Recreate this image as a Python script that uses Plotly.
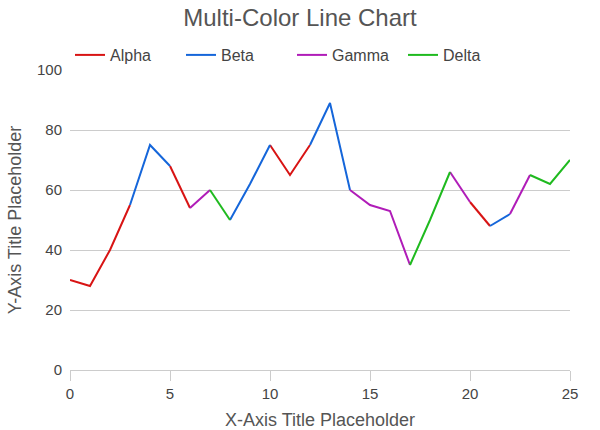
import plotly.graph_objects as go

# Data
x_values = list(range(26))
y_values = [30, 28, 40, 55, 75, 68, 54, 60, 50, 62, 75, 65, 75, 89, 60, 55, 53, 35, 50, 66, 56, 48, 52, 65, 62, 70]
# series that owns each segment (from point i to point i+1)
segment_series = ["Alpha", "Alpha", "Alpha", "Beta", "Beta", "Alpha", "Gamma", "Delta", "Beta", "Beta",
                  "Alpha", "Alpha", "Beta", "Beta", "Gamma", "Gamma", "Gamma", "Delta", "Delta", "Gamma",
                  "Alpha", "Beta", "Gamma", "Delta", "Delta"]
series_names = ["Alpha", "Beta", "Gamma", "Delta"]
series_colors = {"Alpha": "#d81414", "Beta": "#1566da", "Gamma": "#b01cb8", "Delta": "#1fba1f"}

fig = go.Figure()
for name in series_names:
    xs, ys = [], []
    for i, s in enumerate(segment_series):
        if s != name:
            continue
        if xs and xs[-1] == x_values[i]:
            xs.append(x_values[i + 1]); ys.append(y_values[i + 1])
        else:
            if xs:
                xs.append(None); ys.append(None)
            xs += [x_values[i], x_values[i + 1]]
            ys += [y_values[i], y_values[i + 1]]
    fig.add_trace(go.Scatter(x=xs, y=ys, mode="lines", name=name,
                             line=dict(color=series_colors[name], width=2),
                             connectgaps=False, hoverinfo="skip"))

font_family = "Liberation Sans, Arial, sans-serif"
fig.update_layout(
    width=600, height=430,
    margin=dict(l=70, r=30, t=70, b=60),
    paper_bgcolor="white", plot_bgcolor="white",
    font=dict(family=font_family, color="#444444", size=15),
    title=dict(text="Multi-Color Line Chart", x=0.5, xanchor="center", y=0.958, yanchor="middle",
               font=dict(size=24, color="#555555")),
    showlegend=True,
    legend=dict(orientation="h", x=0.0, y=1.05, xanchor="left", yanchor="middle",
                font=dict(size=16, color="#444444"), itemwidth=30, traceorder="normal",
                entrywidth=66, entrywidthmode="pixels"),
    xaxis=dict(range=[0, 25], tickvals=[0, 5, 10, 15, 20, 25], showgrid=False,
               ticks="outside", ticklen=10, tickcolor="#cccccc", tickwidth=1,
               showline=True, linecolor="#cccccc", linewidth=1, zeroline=False, automargin=False,
               title=dict(text="X-Axis Title Placeholder", font=dict(size=18, color="#555555"), standoff=12),
               tickfont=dict(size=15, color="#444444")),
    yaxis=dict(range=[0, 100], tickvals=[0, 20, 40, 60, 80, 100], showgrid=True,
               gridcolor="#cccccc", gridwidth=1, zeroline=False, ticks="", automargin=False,
               ticklabelstandoff=7,
               title=dict(text="Y-Axis Title Placeholder", font=dict(size=18, color="#555555"), standoff=10),
               tickfont=dict(size=15, color="#444444")),
)

fig.write_html("out.html", config={"displayModeBar": False},
               post_script="document.body.style.margin='0';document.body.style.padding='0';")
